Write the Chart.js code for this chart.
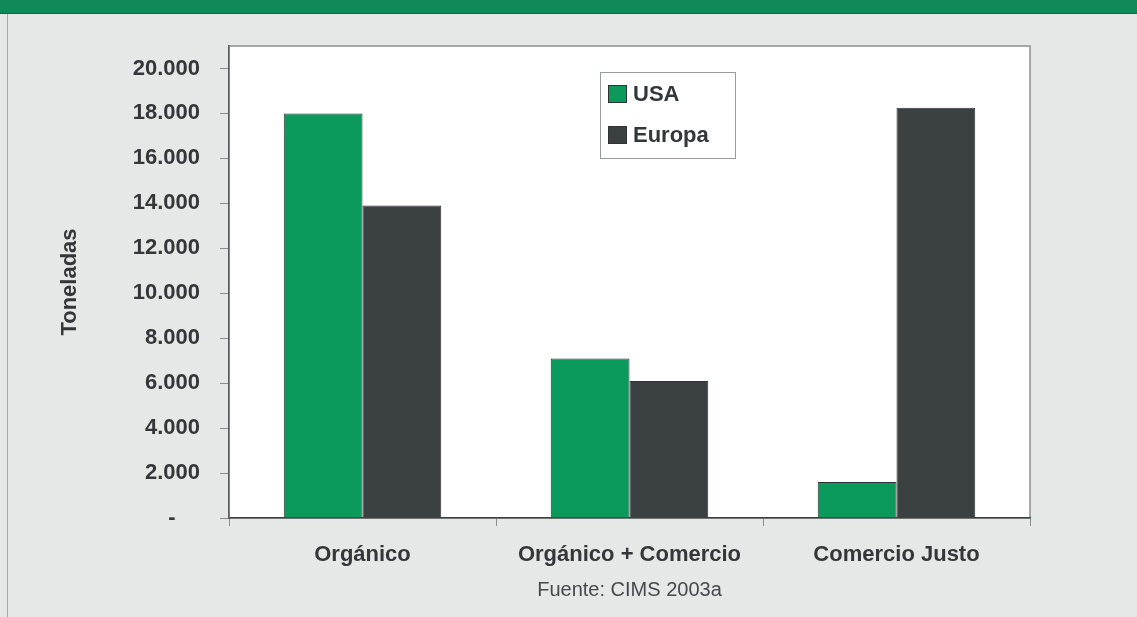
<!DOCTYPE html>
<html lang="es">
<head>
<meta charset="utf-8">
<title>Toneladas por tipo de certificación</title>
<script src="https://cdn.jsdelivr.net/npm/chart.js@4/dist/chart.umd.min.js"></script>
<style>
  html, body { margin: 0; padding: 0; }
  body { width: 1137px; height: 617px; background: #e4e8e6; position: relative; overflow: hidden; }
  #cabecera { position: absolute; left: 0; top: 0; width: 1137px; height: 13px; background: #0f8a58; border-bottom: 1px solid #0b6b44; }
  #marco { position: absolute; left: 7px; top: 14px; width: 1px; height: 603px; background: #a3aaa7; }
  #caja { position: absolute; left: 0; top: 0; width: 1137px; height: 617px; }
</style>
</head>
<body>
<div id="cabecera"></div>
<div id="marco"></div>
<div id="caja"><canvas id="grafica" width="1137" height="617"></canvas></div>
<script>
const categorias = ["Orgánico", "Orgánico + Comercio", "Comercio Justo"];
const usa = [18000, 7100, 1600];
const europa = [13900, 6100, 18250];
const valoresY = [0, 2000, 4000, 6000, 8000, 10000, 12000, 14000, 16000, 18000, 20000];
const etiquetasY = ["-    ", "2.000", "4.000", "6.000", "8.000", "10.000", "12.000", "14.000", "16.000", "18.000", "20.000"];

const verde = '#0b9a5c';
const gris = '#3b4042';
const texto = '#333738';

// fondo blanco y marco gris del área de trazado
const fondoArea = {
    id: 'fondoArea',
    beforeDraw(chart) {
        const a = chart.chartArea;
        const ctx = chart.ctx;
        ctx.save();
        ctx.fillStyle = '#ffffff';
        ctx.fillRect(a.left, a.top, a.right - a.left, a.bottom - a.top);
        ctx.strokeStyle = '#8c8f8f';
        ctx.lineWidth = 1.5;
        ctx.strokeRect(a.left, a.top, a.right - a.left, a.bottom - a.top);
        ctx.restore();
    }
};

// leyenda en recuadro dentro del área de trazado
const leyendaCaja = {
    id: 'leyendaCaja',
    afterDraw(chart) {
        const ctx = chart.ctx;
        const x = 600, y = 72, w = 135, h = 86;
        ctx.save();
        ctx.fillStyle = '#ffffff';
        ctx.fillRect(x, y, w, h);
        ctx.strokeStyle = '#9a9d9d';
        ctx.lineWidth = 1;
        ctx.strokeRect(x + 0.5, y + 0.5, w, h);
        ctx.font = 'bold 22px "Liberation Sans", Arial, sans-serif';
        ctx.textBaseline = 'middle';
        chart.data.datasets.forEach((ds, i) => {
            const cy = y + 22 + i * 41;
            ctx.fillStyle = ds.backgroundColor;
            ctx.fillRect(x + 8, cy - 9, 19, 18);
            ctx.strokeStyle = '#2e3333';
            ctx.strokeRect(x + 8.5, cy - 8.5, 18, 17);
            ctx.fillStyle = texto;
            ctx.fillText(ds.label, x + 33, cy + 1);
        });
        ctx.restore();
    }
};

const data = {
    labels: categorias,
    datasets: [
        {
            label: "USA",
            data: usa,
            backgroundColor: verde,
            borderColor: '#2e3333',
            borderWidth: 1,
        },
        {
            label: "Europa",
            data: europa,
            backgroundColor: gris,
            borderColor: '#2e3333',
            borderWidth: 1,
        }
    ]
};

const config = {
    type: 'bar',
    data: data,
    options: {
        responsive: false,
        animation: false,
        layout: {padding: {top: 46, right: 107, bottom: 0, left: 0}},
        datasets: {bar: {barPercentage: 1, categoryPercentage: 0.59}},
        plugins: {
            legend: {display: false},
            tooltip: {enabled: false},
        },
        scales: {
            x: {
                grid: {offset: true, drawOnChartArea: false, drawTicks: true, tickLength: 8, color: '#8a8d8d'},
                border: {color: '#3e4242', width: 1.5},
                ticks: {
                    color: texto,
                    padding: 16,
                    maxRotation: 0,
                    font: {family: '"Liberation Sans", Arial, sans-serif', size: 22, weight: 'bold'},
                },
                title: {
                    display: true,
                    text: 'Fuente: CIMS 2003a',
                    color: '#45494a',
                    padding: {top: 4, bottom: 15},
                    font: {family: '"Liberation Sans", Arial, sans-serif', size: 20},
                },
                afterFit(scale) { scale.height = 99; },
            },
            y: {
                min: 0,
                max: 21000,
                bounds: 'data',
                afterBuildTicks(scale) {
                    scale.ticks = valoresY.map(v => ({value: v}));
                },
                grid: {drawOnChartArea: false, drawTicks: true, tickLength: 9, color: '#8a8d8d'},
                border: {color: '#5a5e5e', width: 1.5},
                ticks: {
                    color: texto,
                    padding: 20,
                    font: {family: '"Liberation Sans", Arial, sans-serif', size: 22, weight: 'bold'},
                    callback: (v, i) => etiquetasY[i],
                },
                title: {
                    display: true,
                    text: 'Toneladas',
                    color: texto,
                    padding: {top: 57, bottom: 0},
                    font: {family: '"Liberation Sans", Arial, sans-serif', size: 22, weight: 'bold'},
                },
                afterFit(scale) { scale.width = 229; },
            }
        }
    },
    plugins: [fondoArea, leyendaCaja]
};

const ctx = document.getElementById('grafica').getContext('2d');
const graficaToneladas = new Chart(ctx, config);
</script>
</body>
</html>
